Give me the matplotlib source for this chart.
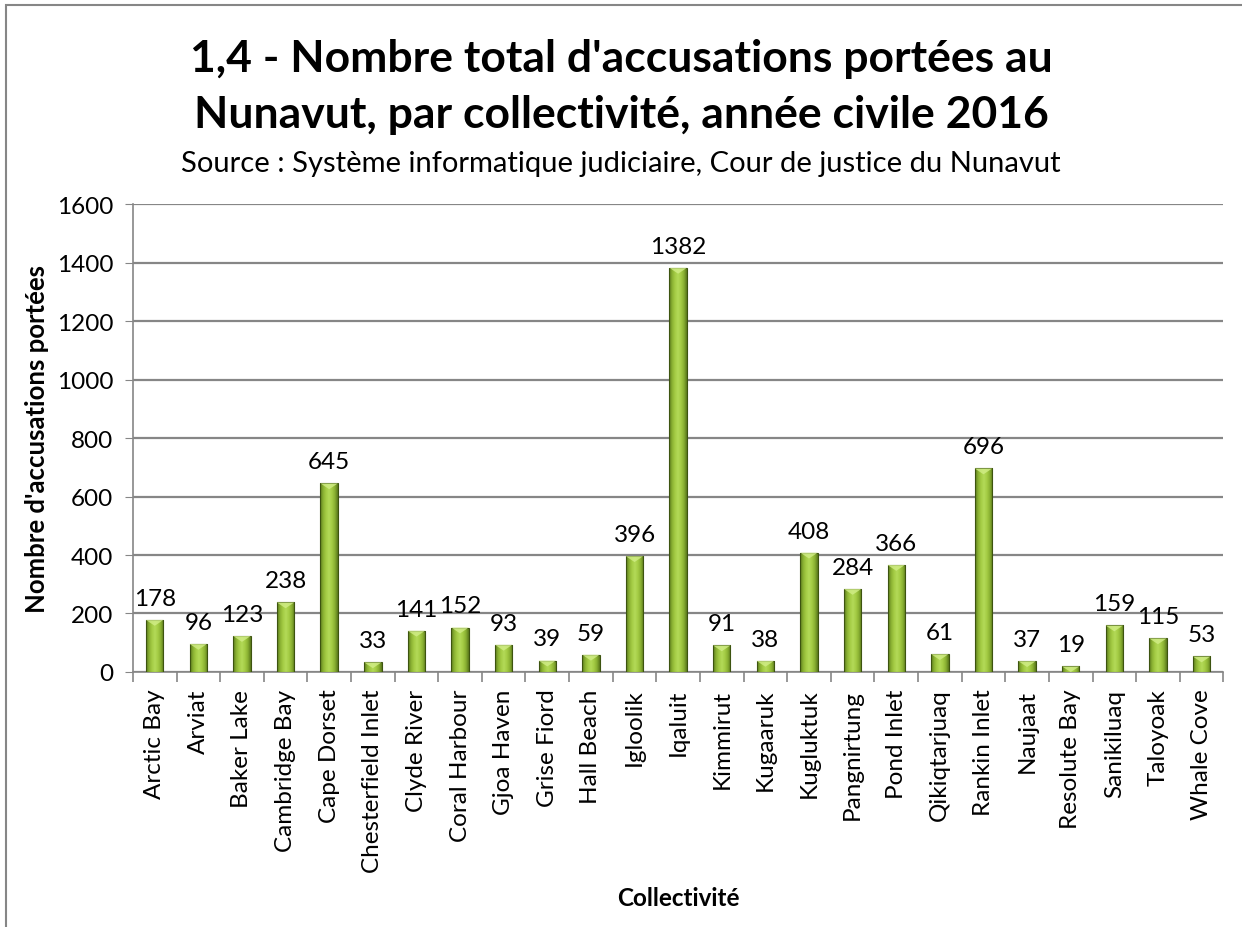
import numpy as np
import matplotlib.pyplot as plt
from matplotlib.colors import LinearSegmentedColormap
from matplotlib.patches import Rectangle, Polygon

plt.rcParams["font.family"] = ["Lato", "DejaVu Sans"]

# ── Data ───────────────────────────────────────────────────────────────────
COMMUNITIES = [
    "Arctic Bay", "Arviat", "Baker Lake", "Cambridge Bay", "Cape Dorset",
    "Chesterfield Inlet", "Clyde River", "Coral Harbour", "Gjoa Haven",
    "Grise Fiord", "Hall Beach", "Igloolik", "Iqaluit", "Kimmirut",
    "Kugaaruk", "Kugluktuk", "Pangnirtung", "Pond Inlet", "Qikiqtarjuaq",
    "Rankin Inlet", "Naujaat", "Resolute Bay", "Sanikiluaq", "Taloyoak",
    "Whale Cove",
]
COUNTS = [178, 96, 123, 238, 645, 33, 141, 152, 93, 39, 59, 396, 1382, 91,
          38, 408, 284, 366, 61, 696, 37, 19, 159, 115, 53]
Y_TICKS = [0, 200, 400, 600, 800, 1000, 1200, 1400, 1600]

TITLE_1 = "1,4 - Nombre total d'accusations portées au"
TITLE_2 = "Nunavut, par collectivité, année civile 2016"
SUBTITLE = "Source : Système informatique judiciaire, Cour de justice du Nunavut"

BAR_W = 0.4
green = LinearSegmentedColormap.from_list(
    "g", ["#5a791c", "#8ab032", "#a4cc45", "#b4da58", "#a4cc45", "#8ab032", "#5a791c"])
grad = np.linspace(0, 1, 64).reshape(1, -1)

fig = plt.figure(figsize=(12.42, 9.28), dpi=100)
ax = fig.add_axes([0.107, 0.2748, 0.878, 0.5042])

x = np.arange(len(COMMUNITIES))
bars = ax.bar(x, COUNTS, width=BAR_W, color="none", edgecolor="none", zorder=3)
for b, v in zip(bars, COUNTS):
    x0, w, h = b.get_x(), b.get_width(), b.get_height()
    im = ax.imshow(grad, cmap=green, aspect="auto", extent=(x0, x0 + w, 0, h),
                   zorder=3, interpolation="bilinear")
    im.set_clip_path(b)
    ax.add_patch(Rectangle((x0, 0), w, h, facecolor="none",
                           edgecolor="#3d5410", linewidth=0.8, zorder=4))
    tri_h = min(h, 20)
    ax.add_patch(Polygon([(x0, h), (x0 + w, h), (x0 + w / 2, h - tri_h)],
                         closed=True, facecolor="#d2ee88", edgecolor="none",
                         alpha=0.8, zorder=4))
    ax.annotate(str(v), (x0 + w / 2, h), xytext=(0, 8), textcoords="offset points",
                ha="center", va="bottom", fontsize=17.5, zorder=5)

ax.set_xlim(-0.5, len(COMMUNITIES) - 0.5)
ax.set_ylim(0, 1600)
ax.set_yticks(Y_TICKS)
ax.tick_params(axis="y", labelsize=17.5, length=6, color="#868686", pad=8)
ax.yaxis.grid(True, color="#868686", linewidth=1.6, zorder=0)
ax.set_axisbelow(True)

ax.set_xticks(x)
ax.set_xticklabels(COMMUNITIES, rotation=90, fontsize=17.5)
ax.tick_params(axis="x", length=0, pad=12)
ax.set_xticks(np.arange(-0.5, len(COMMUNITIES)), minor=True)
ax.tick_params(axis="x", which="minor", length=7, color="#868686", width=1.2)

for s in ("top", "right"):
    ax.spines[s].set_visible(False)
for s in ("left", "bottom"):
    ax.spines[s].set_color("#868686")
    ax.spines[s].set_linewidth(1.2)

ax.set_ylabel("Nombre d'accusations portées", fontsize=18.5, fontweight="bold",
              va="center")
ax.yaxis.set_label_coords(-0.088, 0.5)
ax.set_xlabel("Collectivité", fontsize=17.5, fontweight="bold", va="center")
ax.xaxis.set_label_coords(0.5, -0.483)

fig.text(0.5, 1 - 72 / 928, TITLE_1, ha="center", va="baseline", fontsize=32,
         fontweight="bold")
fig.text(0.5, 1 - 128 / 928, TITLE_2, ha="center", va="baseline", fontsize=32,
         fontweight="bold")
fig.text(0.5, 1 - 172 / 928, SUBTITLE, ha="center", va="baseline", fontsize=21)

fig.patches.append(Rectangle((0.005, -0.1), 1.2, 1.094, transform=fig.transFigure,
                             facecolor="none", edgecolor="#868686", linewidth=1.5))

fig.savefig("out.png", dpi=100)
